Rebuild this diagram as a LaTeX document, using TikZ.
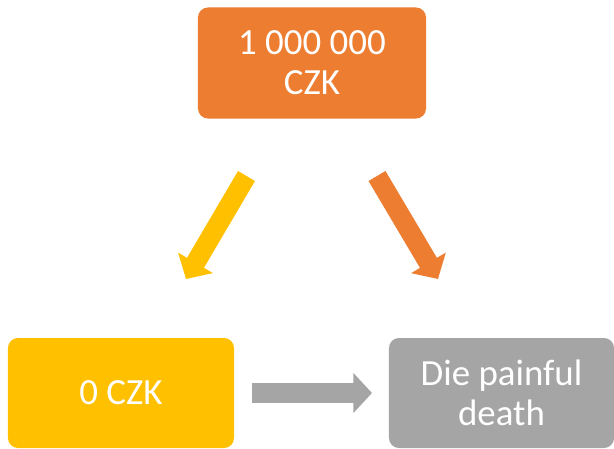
\documentclass[tikz,border=0pt]{standalone}
\usepackage{fontspec}
\setmainfont{Carlito}
\usetikzlibrary{arrows.meta}
\definecolor{accOrange}{HTML}{ED7D31}
\definecolor{accYellow}{HTML}{FFC000}
\definecolor{accGray}{HTML}{A5A5A5}
\tikzset{
  box/.style={rounded corners=8.5pt, inner sep=0pt, text=white, align=center,
    font=\fontsize{31.5}{34}\selectfont},
  blockarrow/.style={line width=16.8pt,
    -{Triangle[width=33.5pt,length=16pt]}}
}
\begin{document}
\begin{tikzpicture}[x=0.03cm,y=-0.03cm]
\useasboundingbox (0,0) rectangle (614,449);
\node[box, fill=accOrange, minimum width=6.84cm, minimum height=3.33cm] (top) at (312,63) {1 000 000\\CZK};
\node[box, fill=accYellow, minimum width=6.78cm, minimum height=3.3cm] (left) at (121,393) {0 CZK};
\node[box, fill=accGray, minimum width=6.75cm, minimum height=3.3cm] (right) at (501.5,393) {Die painful\\death};
\coordinate (ya) at (246.5,176);
\coordinate (yb) at (186,279);
\coordinate (oa) at (377,176);
\coordinate (ob) at (438,279);
\coordinate (ga) at (252,393);
\coordinate (gb) at (372,393);
\draw[blockarrow, accYellow] (ya) -- (yb);
\draw[blockarrow, accOrange] (oa) -- (ob);
\draw[blockarrow, accGray] (ga) -- (gb);
\end{tikzpicture}
\end{document}
